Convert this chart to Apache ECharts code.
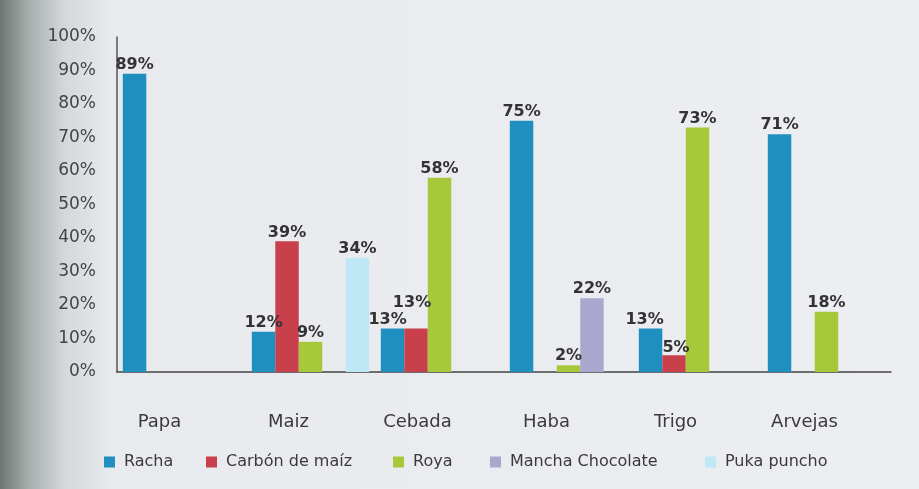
<!DOCTYPE html>
<html>
<head>
<meta charset="utf-8">
<script src="https://cdn.jsdelivr.net/npm/echarts@6/dist/echarts.min.js"></script>
<style>
html,body{margin:0;padding:0;}
#chart{width:919px;height:489px;}
</style>
</head>
<body>
<div id="chart"></div>
<script>
var categories = ['Papa', 'Maiz', 'Cebada', 'Haba', 'Trigo', 'Arvejas'];
var seriesNames = ['Racha', 'Carbón de maíz', 'Roya', 'Mancha Chocolate', 'Puka puncho'];
var racha = [89, 12, 13, 75, 13, 71];
var carbon = [null, 39, 13, null, 5, null];
var roya = [null, 9, 58, 2, 73, 18];
var mancha = [null, null, null, 22, null, null];
var puka = [null, 34, null, null, null, null];
var yTicks = [0, 10, 20, 30, 40, 50, 60, 70, 80, 90, 100];
var colors = ['#1f8fc0', '#c8404c', '#a8c83c', '#aaa7cf', '#bfe8f6'];

var allData = [racha, carbon, roya, mancha, puka];
var legendLefts = [99, 201, 388, 485, 700];
var FONT = 'DejaVu Sans, Liberation Sans, sans-serif';
// label nudges to avoid overlapping labels (series index -> category index -> offset)
var labelNudge = {0: {2: [-5, 0], 4: [-6, 0]}, 1: {2: [-4, -17], 4: [2, 2]}};

var chart = echarts.init(document.getElementById('chart'));
chart.setOption({
  backgroundColor: {
    type: 'linear', x: 0, y: 0, x2: 1, y2: 0,
    colorStops: [
      {offset: 0, color: '#6c7572'},
      {offset: 0.03, color: '#a6acab'},
      {offset: 0.07, color: '#d4d8da'},
      {offset: 0.12, color: '#e8eaee'},
      {offset: 1, color: '#eceef2'}
    ]
  },
  color: colors,
  textStyle: {fontFamily: FONT},
  grid: {left: 117, right: 28, top: 37, bottom: 117, containLabel: false},
  legend: seriesNames.map(function(name, i){
    return {
      data: [name],
      left: legendLefts[i], top: 449,
      itemWidth: 11, itemHeight: 11,
      icon: 'rect',
      textStyle: {fontSize: 16, color: '#3a3a3a', fontFamily: FONT, padding: [0, 0, 0, 4]}
    };
  }),
  xAxis: {
    type: 'category',
    data: categories,
    axisLine: {lineStyle: {color: '#444', width: 1.5}},
    axisTick: {show: false},
    axisLabel: {fontSize: 18, color: '#3a3a3a', margin: 41, padding: [0, 44, 0, 0]}
  },
  yAxis: {
    type: 'value', min: 0, max: 100, interval: 10,
    axisLine: {show: true, lineStyle: {color: '#555', width: 1.5}},
    axisTick: {show: false},
    splitLine: {show: false},
    axisLabel: {fontSize: 17, color: '#444', margin: 21, formatter: function(v){ return yTicks.indexOf(v) >= 0 ? v + '%' : ''; }}
  },
  series: seriesNames.map(function(name, i){
    var nudges = labelNudge[i] || {};
    return {
      name: name,
      type: 'bar',
      data: allData[i].map(function(v, j){
        if (nudges[j]) return {value: v, label: {offset: nudges[j]}};
        return v;
      }),
      barGap: '0%',
      barCategoryGap: '9%',
      label: {
        show: true, position: 'top', distance: 1,
        fontSize: 16, fontWeight: 'bold', color: '#333',
        formatter: '{c}%'
      }
    };
  })
});
</script>
</body>
</html>
